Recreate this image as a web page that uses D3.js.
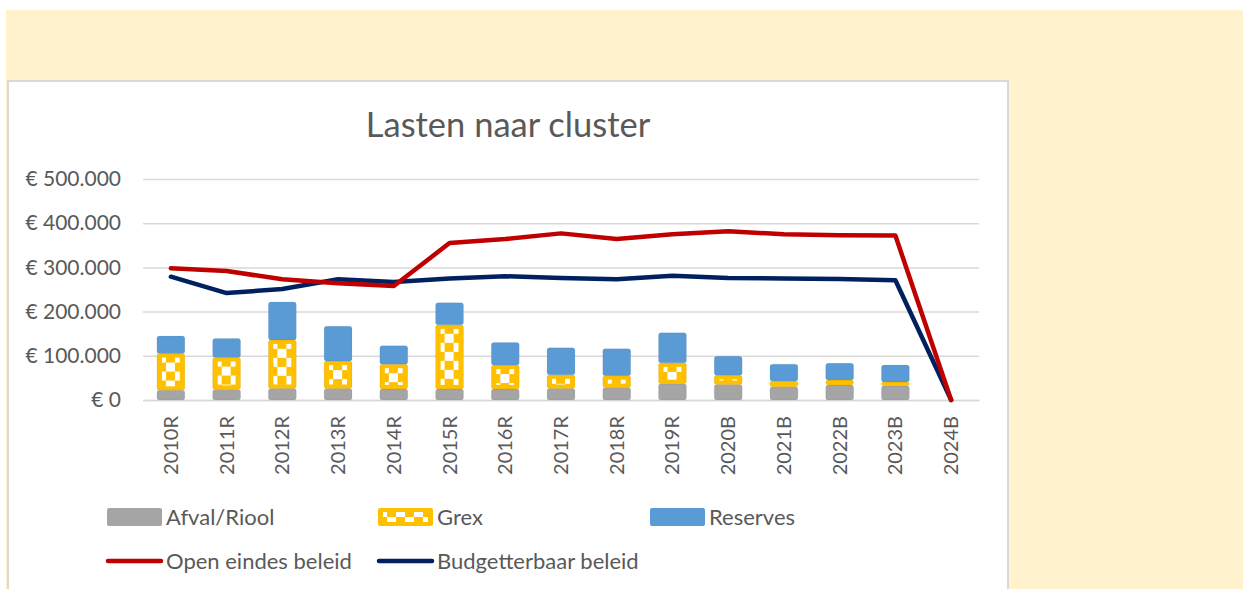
<!DOCTYPE html>
<html>
<head>
<meta charset="utf-8">
<script src="https://cdn.jsdelivr.net/npm/d3@7"></script>
<style>
  html, body { margin: 0; padding: 0; background: #ffffff; }
  svg { display: block; }
  text { font-family: Lato, "Open Sans", sans-serif; fill: #595959; }
</style>
</head>
<body>
<svg id="chart" width="1243" height="589"></svg>
<script>
// Categories (R = realisatie, B = begroting)
const categories = ["2010R","2011R","2012R","2013R","2014R","2015R","2016R","2017R","2018R","2019R","2020B","2021B","2022B","2023B","2024B"];

// Stacked bar series (euro)
const afvalRiool = [22000, 24000, 26000, 26000, 25000, 25000, 25000, 26000, 28000, 37000, 35000, 30000, 34000, 32000, 0];
const grex       = [83000, 72000, 110000, 62000, 56000, 145000, 54000, 31000, 27000, 47000, 21000, 13000, 11000, 9000, 0];
const reserves   = [40000, 43000, 86000, 79000, 42000, 50000, 51000, 61000, 61000, 68000, 43000, 38000, 38000, 38000, 0];

// Line series (euro)
const openEindes    = [298000, 292000, 273000, 264000, 258000, 355000, 364000, 377000, 364000, 375000, 382000, 375000, 373000, 372000, 0];
const budgetterbaar = [279000, 242000, 251000, 273000, 267000, 275000, 280000, 276000, 273000, 281000, 276000, 275000, 274000, 271000, 0];

const yTicks = [0, 100000, 200000, 300000, 400000, 500000];

const colors = {
  afval: "#A5A5A5",
  grex: "#FFC000",
  reserves: "#5B9BD5",
  open: "#C00000",
  budget: "#002060",
  grid: "#D9D9D9",
  text: "#595959"
};

const svg = d3.select("#chart");

// Page background panels
svg.append("rect").attr("x", 6).attr("y", 10).attr("width", 1237).attr("height", 579).attr("fill", "#FFF2CC");
svg.append("rect").attr("x", 8).attr("y", 81).attr("width", 1000).attr("height", 520)
  .attr("fill", "#ffffff").attr("stroke", "#D9D9D9").attr("stroke-width", 2);

// Checker pattern for the Grex fill
const defs = svg.append("defs");
const pat = defs.append("pattern").attr("id", "grexPattern")
  .attr("patternUnits", "userSpaceOnUse").attr("width", 18).attr("height", 18);
pat.append("rect").attr("width", 18).attr("height", 18).attr("fill", colors.grex);
pat.append("rect").attr("x", 0).attr("y", 0).attr("width", 9).attr("height", 9).attr("fill", "#ffffff");
pat.append("rect").attr("x", 9).attr("y", 9).attr("width", 9).attr("height", 9).attr("fill", "#ffffff");

// Title
svg.append("text").attr("x", 508).attr("y", 137).attr("text-anchor", "middle")
  .style("font-size", "34.5px").text("Lasten naar cluster");

// Scales
const x = d3.scaleBand().domain(categories).range([143, 979]).paddingInner(0.5).paddingOuter(0.25);
const y = d3.scaleLinear().domain([0, 500000]).range([400, 179]);

const nl = d3.formatLocale({ decimal: ",", thousands: ".", grouping: [3], currency: ["€ ", ""] });
const fmt = nl.format("$,.0f");

// Y axis with gridlines
const yAxis = svg.append("g").attr("transform", "translate(143,0)")
  .call(d3.axisLeft(y).tickValues(yTicks).tickFormat(fmt).tickSize(-836).tickPadding(22));
yAxis.select(".domain").remove();
yAxis.selectAll(".tick line").attr("stroke", colors.grid).attr("stroke-width", 1.5);
yAxis.selectAll(".tick text").style("font-size", "21px").attr("fill", colors.text)
  .style("font-family", "Lato, sans-serif");

// X axis
const xAxis = svg.append("g").attr("transform", "translate(0,400)")
  .call(d3.axisBottom(x).tickSize(0).tickPadding(0));
xAxis.select(".domain").attr("stroke", colors.grid).attr("stroke-width", 1.5);
xAxis.selectAll(".tick text")
  .attr("transform", "rotate(-90)")
  .attr("text-anchor", "end")
  .attr("x", -16).attr("y", 0).attr("dy", "0.35em")
  .style("font-size", "20px").attr("fill", colors.text)
  .style("font-family", "Lato, sans-serif");

// Stacked bars
const rows = categories.map((c, i) => ({ cat: c, afval: afvalRiool[i], grex: grex[i], reserves: reserves[i] }));
const stack = d3.stack().keys(["afval", "grex", "reserves"])(rows);
const bw = x.bandwidth();

const barG = svg.append("g");
stack.forEach(layer => {
  const key = layer.key;
  layer.forEach((d, i) => {
    const h = y(d[0]) - y(d[1]);
    if (h <= 0) return;
    const g = barG.append("g").attr("transform", `translate(${x(categories[i])},${y(d[1])})`);
    g.append("rect").attr("width", bw).attr("height", h).attr("rx", 2.5)
      .attr("fill", colors[key]).attr("stroke", "rgba(0,0,0,0.06)").attr("stroke-width", 1);
    if (key === "grex" && h > 8) {
      g.append("rect").attr("x", 5).attr("y", 4).attr("width", bw - 10).attr("height", h - 8)
        .attr("fill", "url(#grexPattern)");
    }
  });
});

// Lines
const line = d3.line().x((d, i) => x(categories[i]) + bw / 2).y(d => y(d));
svg.append("path").datum(budgetterbaar).attr("d", line).attr("fill", "none")
  .attr("stroke", colors.budget).attr("stroke-width", 4.5).attr("stroke-linejoin", "round").attr("stroke-linecap", "round");
svg.append("path").datum(openEindes).attr("d", line).attr("fill", "none")
  .attr("stroke", colors.open).attr("stroke-width", 4.5).attr("stroke-linejoin", "round").attr("stroke-linecap", "round");

// Legend
const legendItems = [
  { label: "Afval/Riool", type: "bar", fill: colors.afval, col: 0, row: 0 },
  { label: "Grex", type: "grex", fill: colors.grex, col: 1, row: 0 },
  { label: "Reserves", type: "bar", fill: colors.reserves, col: 2, row: 0 },
  { label: "Open eindes beleid", type: "line", fill: colors.open, col: 0, row: 1 },
  { label: "Budgetterbaar beleid", type: "line", fill: colors.budget, col: 1, row: 1 }
];
const colX = [107, 378, 650];
const rowY = [517, 561];
const lg = svg.append("g");
legendItems.forEach(it => {
  const g = lg.append("g").attr("transform", `translate(${colX[it.col]},${rowY[it.row]})`);
  if (it.type === "line") {
    g.append("line").attr("x1", 1).attr("x2", 54).attr("y1", 0).attr("y2", 0)
      .attr("stroke", it.fill).attr("stroke-width", 4.5).attr("stroke-linecap", "round");
  } else {
    const sg = g.append("g").attr("transform", "translate(0,-9)");
    sg.append("rect").attr("width", 55).attr("height", 18).attr("rx", 2).attr("fill", it.fill);
    if (it.type === "grex") {
      sg.append("rect").attr("x", 5).attr("y", 4).attr("width", 45).attr("height", 10).attr("fill", "url(#grexPattern)");
    }
  }
  g.append("text").attr("x", 59).attr("y", 0).attr("dy", "0.36em")
    .style("font-size", "22px").text(it.label);
});
</script>
</body>
</html>
